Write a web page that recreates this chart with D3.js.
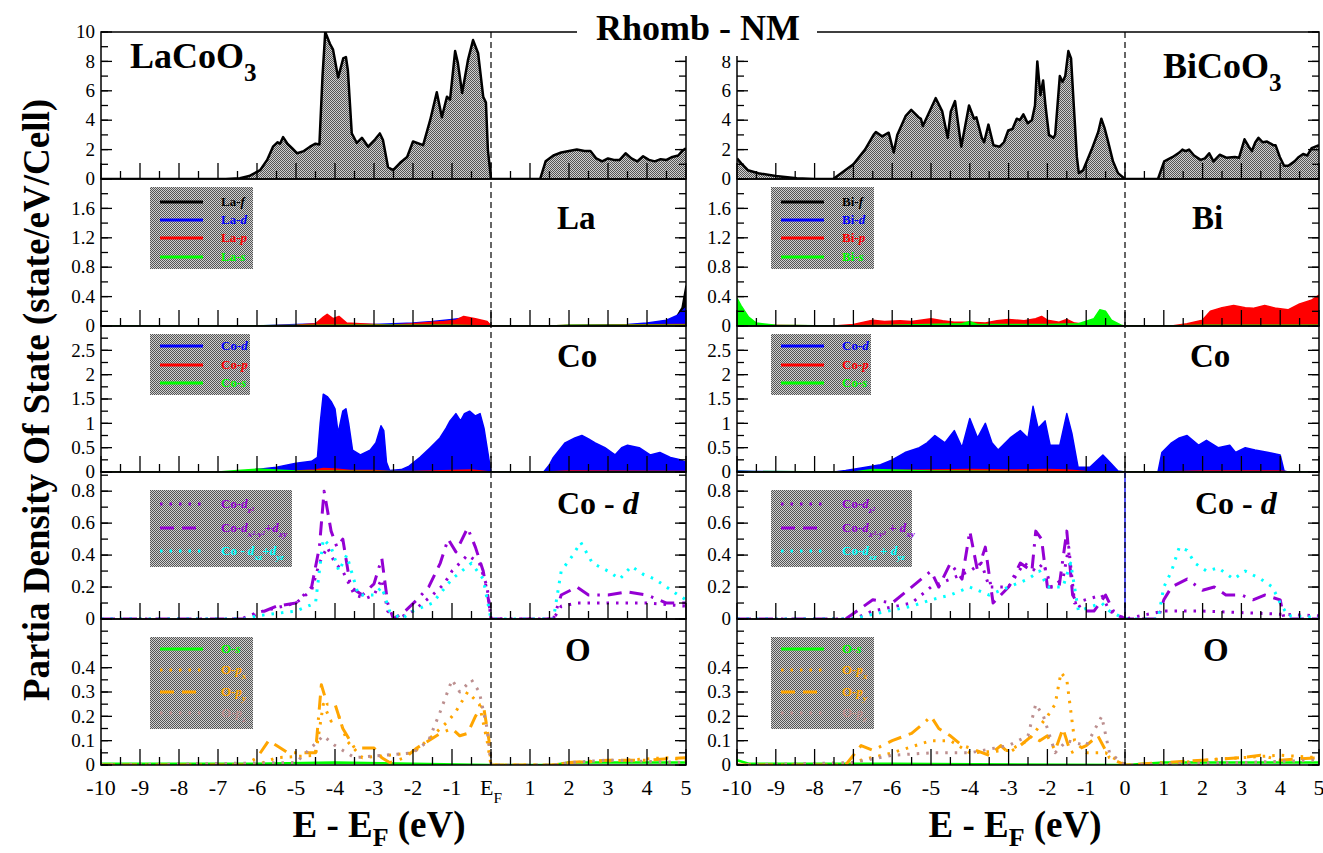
<!DOCTYPE html>
<html>
<head>
<meta charset="utf-8">
<script src="https://cdn.jsdelivr.net/npm/d3@7"></script>
<style>
  body { margin: 0; background: #fff; }
</style>
</head>
<body>
<svg id="chart" width="1323" height="853" font-family="'Liberation Serif', 'DejaVu Serif', serif"></svg>
<script>
// ---------- data (energy E - EF in eV, DOS) ----------
const laTotal = [[-10,0],[-6.8,0],[-6.44,0.05],[-6.2,0.2],[-5.92,0.6],[-5.74,1.3],[-5.59,2.2],[-5.47,2.5],[-5.41,2.4],[-5.33,2.85],[-5.22,2.4],[-5.1,2.1],[-4.97,1.75],[-4.8,1.9],[-4.64,2.2],[-4.5,2.4],[-4.4,2.35],[-4.32,7],[-4.25,10],[-4.13,9.2],[-4.05,8.8],[-3.92,6.9],[-3.79,8.2],[-3.72,8.3],[-3.67,7.4],[-3.57,3.1],[-3.44,2.45],[-3.31,2.8],[-3.15,2.2],[-2.97,2.7],[-2.85,3.1],[-2.77,2.65],[-2.64,0.8],[-2.51,0.6],[-2.33,1.1],[-2.15,1.5],[-2.0,2.55],[-1.74,2.3],[-1.56,4.0],[-1.39,5.9],[-1.26,4.2],[-1.13,5.6],[-1.05,5.4],[-0.92,8.7],[-0.85,7.9],[-0.74,5.85],[-0.59,8.1],[-0.46,9.45],[-0.33,8.55],[-0.2,5.6],[-0.13,5.2],[-0.08,2],[0,0],[1.26,0],[1.4,1.2],[1.6,1.6],[1.8,1.8],[2.0,1.9],[2.2,2.0],[2.4,1.9],[2.55,1.9],[2.7,1.4],[2.85,1.2],[3.0,1.4],[3.15,1.3],[3.3,1.3],[3.45,1.75],[3.6,1.4],[3.75,1.2],[3.9,1.55],[4.05,1.3],[4.2,1.2],[4.35,1.35],[4.5,1.3],[4.65,1.5],[4.8,1.6],[4.9,1.9],[5,2.1]];
const biTotal = [[-10,1.4],[-9.89,1.07],[-9.72,0.6],[-9.45,0.39],[-9.0,0.2],[-8.46,0.05],[-8,0],[-7.52,0],[-7.0,1.0],[-6.7,2.0],[-6.48,3.0],[-6.42,3.2],[-6.26,2.9],[-6.09,3.15],[-5.96,1.8],[-5.87,3.0],[-5.65,4.3],[-5.51,4.7],[-5.32,4.2],[-5.26,4.1],[-5.21,3.6],[-4.88,5.5],[-4.71,4.6],[-4.57,2.8],[-4.49,4.6],[-4.38,5.3],[-4.22,2.2],[-4.02,5.0],[-3.89,4.1],[-3.83,4.2],[-3.69,2.8],[-3.63,2.5],[-3.52,3.7],[-3.39,2.3],[-3.23,2.2],[-3.12,2.5],[-3.01,3.3],[-2.9,3.4],[-2.79,4.1],[-2.71,4.0],[-2.62,4.4],[-2.51,3.8],[-2.4,4.0],[-2.32,5.0],[-2.26,8.0],[-2.18,5.7],[-2.11,6.7],[-2.05,5.0],[-1.96,3.0],[-1.85,2.8],[-1.8,3.0],[-1.68,7.0],[-1.61,6.6],[-1.54,7.0],[-1.46,8.7],[-1.39,8.2],[-1.32,5.0],[-1.24,1.5],[-1.19,0.4],[-1.08,0.6],[-0.86,2.0],[-0.69,3.2],[-0.61,4.1],[-0.53,3.5],[-0.45,2.7],[-0.31,1.2],[-0.18,0.4],[0,0],[0.85,0],[1.01,1.2],[1.23,1.5],[1.4,1.8],[1.48,2.0],[1.56,1.9],[1.65,2.0],[1.78,1.6],[1.95,1.3],[2.06,1.4],[2.17,1.75],[2.28,1.2],[2.44,1.65],[2.61,1.45],[2.83,1.5],[2.94,1.45],[3.08,2.7],[3.19,2.2],[3.27,1.9],[3.36,2.5],[3.44,2.8],[3.55,2.5],[3.66,2.55],[3.82,2.3],[3.88,2.3],[3.99,1.5],[4.1,0.9],[4.21,0.9],[4.37,1.2],[4.48,1.5],[4.59,1.7],[4.7,1.6],[4.81,2.1],[5,2.3]];

const laF = [[-10,0],[3.5,0],[4,0.02],[4.5,0.06],[4.75,0.12],[4.9,0.25],[5,0.55]];
const laD = [[-10,0],[-6,0],[-5,0.02],[-4.3,0.03],[-3,0.02],[-2,0.04],[-1.5,0.06],[-1,0.09],[-0.7,0.11],[-0.4,0.08],[-0.1,0.05],[0,0],[1.5,0],[2.5,0.01],[3.5,0.02],[4,0.04],[4.5,0.08],[4.8,0.15],[5,0.25]];
const laP = [[-10,0],[-6,0],[-5,0.01],[-4.5,0.03],[-4.3,0.12],[-4.2,0.16],[-4.05,0.1],[-3.9,0.13],[-3.7,0.04],[-3,0.02],[-2.6,0.01],[-2,0.03],[-1.5,0.05],[-1.2,0.06],[-0.9,0.08],[-0.7,0.13],[-0.4,0.1],[-0.1,0.06],[0,0],[1.5,0],[2,0.01],[5,0.02]];
const laS = [[-10,0.005],[-6,0.005],[-4,0.01],[-1,0.01],[0,0],[1.5,0],[2,0.01],[5,0.01]];

const biF = [[-10,0],[5,0]];
const biD = [[-10,0],[-7,0],[-5,0.01],[-2,0.01],[0,0],[1,0],[5,0.02]];
const biP = [[-10,0.02],[-9.5,0.01],[-7.5,0],[-7,0.02],[-6.5,0.08],[-6.2,0.06],[-5.8,0.07],[-5.5,0.06],[-5.0,0.1],[-4.7,0.07],[-4.4,0.05],[-4,0.05],[-3.6,0.04],[-3.3,0.07],[-3,0.09],[-2.6,0.07],[-2.3,0.1],[-2.15,0.13],[-2,0.08],[-1.7,0.05],[-1.5,0.09],[-1.3,0.04],[-1,0.02],[-0.5,0.03],[0,0],[1.2,0],[1.6,0.03],[2,0.08],[2.2,0.2],[2.5,0.25],[2.8,0.28],[3.1,0.25],[3.3,0.24],[3.6,0.28],[3.9,0.24],[4.2,0.22],[4.5,0.3],[4.8,0.35],[5,0.42]];
const biS = [[-10,0.38],[-9.9,0.28],[-9.7,0.12],[-9.5,0.04],[-9,0.01],[-7.5,0],[-6,0.01],[-4.2,0.03],[-4,0.06],[-3.8,0.02],[-2,0.02],[-1.2,0.03],[-0.8,0.1],[-0.65,0.22],[-0.5,0.2],[-0.35,0.08],[-0.1,0.01],[0,0],[1,0],[2,0.01],[5,0.01]];

const coDL = [[-10,0],[-6.6,0],[-6,0.05],[-5.5,0.1],[-5,0.18],[-4.6,0.22],[-4.45,0.3],[-4.38,1.0],[-4.3,1.6],[-4.2,1.55],[-4.1,1.45],[-4.0,1.3],[-3.92,0.8],[-3.8,1.25],[-3.72,1.3],[-3.65,1.0],[-3.55,0.45],[-3.35,0.35],[-3.1,0.45],[-2.95,0.6],[-2.82,0.95],[-2.75,0.85],[-2.68,0.2],[-2.6,0.03],[-2.3,0.05],[-2.1,0.12],[-1.82,0.3],[-1.56,0.5],[-1.31,0.7],[-1.15,0.9],[-1.05,1.05],[-0.9,1.2],[-0.78,1.05],[-0.68,1.2],[-0.55,1.25],[-0.4,1.15],[-0.28,1.2],[-0.18,0.9],[-0.08,0.4],[0,0],[1.35,0],[1.5,0.15],[1.6,0.3],[1.9,0.6],[2.15,0.7],[2.33,0.75],[2.5,0.68],[2.67,0.6],[2.92,0.5],[3.18,0.35],[3.35,0.5],[3.5,0.55],[3.8,0.5],[4.08,0.35],[4.33,0.4],[4.6,0.3],[4.85,0.25],[5,0.2]];
const coPL = [[-10,0],[-6,0],[-5,0.02],[-4.5,0.04],[-4.3,0.07],[-4,0.06],[-3.6,0.03],[-3,0.03],[-2.6,0.01],[-2,0.01],[-1,0.03],[-0.5,0.04],[0,0],[1.4,0],[2,0.02],[5,0.01]];
const coSL = [[-10,0],[-7,0],[-6.5,0.03],[-6,0.06],[-5.5,0.04],[-5,0.02],[-3,0.01],[0,0],[1.4,0],[5,0.005]];
const coDR = [[-10,0.02],[-9.5,0.01],[-7.5,0],[-7.2,0.03],[-6.8,0.08],[-6.3,0.15],[-6,0.25],[-5.67,0.4],[-5.3,0.5],[-5.1,0.6],[-4.9,0.75],[-4.64,0.6],[-4.4,0.85],[-4.2,0.5],[-4.0,1.1],[-3.8,0.7],[-3.6,1.0],[-3.43,0.6],[-3.27,0.45],[-2.96,0.7],[-2.7,0.85],[-2.5,0.7],[-2.37,1.35],[-2.24,0.9],[-2.06,1.05],[-1.93,0.55],[-1.68,0.55],[-1.5,1.2],[-1.37,0.8],[-1.21,0.1],[-0.9,0.1],[-0.7,0.25],[-0.57,0.35],[-0.39,0.2],[-0.18,0.02],[0,0],[0.85,0],[0.95,0.4],[1.2,0.6],[1.4,0.7],[1.6,0.75],[1.9,0.55],[2.1,0.65],[2.4,0.5],[2.7,0.55],[2.85,0.4],[3.1,0.5],[3.35,0.45],[3.7,0.4],[4.0,0.35],[4.1,0.02],[4.2,0],[5,0]];
const coPR = [[-10,0],[-7,0],[-6,0.03],[-5,0.04],[-4,0.05],[-3,0.04],[-2,0.05],[-1.5,0.04],[-1,0.01],[0,0],[0.9,0],[2,0.02],[4,0.02],[4.2,0],[5,0]];
const coSR = [[-10,0.01],[-7,0],[-6.5,0.05],[-6,0.04],[-5,0.02],[0,0],[5,0.005]];

const dz2L = [[-10,0],[-6.4,0],[-6,0.04],[-5.5,0.07],[-5,0.1],[-4.6,0.18],[-4.4,0.35],[-4.2,0.45],[-4.0,0.35],[-3.8,0.3],[-3.5,0.15],[-3.2,0.13],[-3.0,0.15],[-2.8,0.25],[-2.65,0.05],[-2.4,0],[-2,0.05],[-1.5,0.15],[-1.2,0.22],[-1,0.3],[-0.6,0.4],[-0.3,0.35],[-0.1,0.2],[0,0],[1.6,0],[1.8,0.08],[2.2,0.1],[3,0.1],[4,0.1],[5,0.08]];
const dx2L = [[-10,0],[-6.3,0],[-5.8,0.05],[-5.5,0.08],[-5.0,0.1],[-4.6,0.2],[-4.4,0.45],[-4.28,0.8],[-4.1,0.55],[-3.95,0.45],[-3.8,0.5],[-3.6,0.2],[-3.3,0.15],[-3.0,0.22],[-2.8,0.38],[-2.65,0.1],[-2.5,0],[-2.2,0.05],[-1.9,0.12],[-1.6,0.2],[-1.3,0.35],[-1.1,0.5],[-0.9,0.42],[-0.6,0.57],[-0.4,0.45],[-0.2,0.3],[-0.05,0.1],[0,0],[1.6,0],[1.8,0.15],[2.2,0.2],[2.5,0.15],[3,0.15],[3.5,0.17],[4,0.15],[4.5,0.1],[5,0.1]];
const dxzL = [[-10,0],[-6.3,0],[-6,0.02],[-5,0.05],[-4.5,0.1],[-4.3,0.5],[-4.1,0.45],[-3.9,0.3],[-3.7,0.4],[-3.4,0.15],[-3,0.15],[-2.8,0.2],[-2.6,0.05],[-2.3,0],[-2,0.05],[-1.5,0.1],[-1,0.25],[-0.5,0.35],[-0.2,0.25],[0,0],[1.6,0],[1.8,0.3],[2.1,0.4],[2.3,0.48],[2.6,0.35],[3,0.3],[3.3,0.25],[3.6,0.33],[3.9,0.28],[4.2,0.25],[4.5,0.2],[4.8,0.15],[5,0.12]];
const dz2R = [[-10,0],[-7,0],[-6.5,0.05],[-5.5,0.1],[-5,0.2],[-4.5,0.25],[-4,0.3],[-3.7,0.35],[-3.5,0.2],[-3,0.2],[-2.6,0.35],[-2.3,0.3],[-2.1,0.35],[-1.9,0.2],[-1.6,0.25],[-1.45,0.45],[-1.3,0.1],[-0.6,0.15],[-0.4,0.05],[0,0],[1,0.05],[2,0.05],[5,0.02]];
const dx2R = [[-10,0],[-7.2,0],[-6.5,0.12],[-6,0.1],[-5.5,0.2],[-5,0.3],[-4.8,0.2],[-4.5,0.35],[-4.2,0.25],[-4.0,0.55],[-3.8,0.3],[-3.6,0.45],[-3.4,0.1],[-3,0.2],[-2.7,0.35],[-2.4,0.3],[-2.3,0.55],[-2.15,0.5],[-2.0,0.2],[-1.7,0.2],[-1.5,0.55],[-1.35,0.15],[-1.1,0.05],[-0.8,0.05],[-0.5,0.15],[-0.3,0.05],[0,0],[0.85,0],[1.0,0.12],[1.2,0.2],[1.6,0.25],[2,0.18],[2.3,0.2],[2.6,0.15],[3.0,0.15],[3.3,0.12],[3.6,0.15],[4.0,0.12],[4.1,0],[5,0]];
const dxzR = [[-10,0],[-7,0],[-6.5,0.03],[-5.5,0.08],[-5,0.12],[-4.5,0.15],[-4,0.2],[-3.5,0.15],[-3,0.2],[-2.5,0.25],[-2.2,0.3],[-2,0.2],[-1.6,0.2],[-1.4,0.35],[-1.2,0.05],[-0.6,0.1],[-0.4,0.05],[0,0],[0.85,0],[1.0,0.2],[1.2,0.3],[1.4,0.45],[1.6,0.43],[1.8,0.35],[2.1,0.3],[2.4,0.32],[2.8,0.25],[3.1,0.3],[3.5,0.25],[3.8,0.2],[4.0,0.1],[4.2,0.02],[5,0.01]];
const dSpikeR = [[0,0],[0,1]];

const oSL = [[-10,0.005],[-6,0.005],[-4,0.01],[0,0],[1.6,0],[2,0.01],[5,0.01]];
const oPxL = [[-10,0],[-6,0],[-5.5,0.03],[-4.5,0.04],[-4.3,0.25],[-4.1,0.18],[-3.9,0.2],[-3.7,0.1],[-3.3,0.03],[-2,0.05],[-1.5,0.12],[-1.1,0.18],[-0.9,0.22],[-0.6,0.3],[-0.3,0.25],[-0.1,0.1],[0,0],[1.6,0],[2,0.01],[3.5,0.02],[4.5,0.03],[5,0.02]];
const oPyL = [[-10,0],[-6.3,0],[-6,0.03],[-5.7,0.1],[-5.5,0.08],[-5.2,0.05],[-4.8,0.05],[-4.5,0.05],[-4.35,0.33],[-4.2,0.25],[-4.0,0.25],[-3.8,0.15],[-3.5,0.07],[-3.0,0.07],[-2.8,0.03],[-2.6,0.01],[-2.2,0.03],[-1.9,0.07],[-1.6,0.1],[-1.3,0.13],[-1.0,0.15],[-0.8,0.12],[-0.6,0.13],[-0.4,0.2],[-0.2,0.25],[-0.05,0.1],[0,0],[1.6,0],[2,0.01],[3,0.02],[4,0.02],[5,0.03]];
const oPzL = [[-10,0],[-5,0.01],[-4.3,0.12],[-4,0.08],[-3.5,0.03],[-2,0.05],[-1.6,0.1],[-1.3,0.22],[-1.0,0.35],[-0.8,0.3],[-0.5,0.35],[-0.3,0.3],[-0.1,0.15],[0,0],[1.6,0],[2,0.01],[3,0.02],[5,0.01]];
const oSR = [[-10,0.02],[-9.7,0.005],[-6,0.005],[0,0],[1,0.01],[5,0.01]];
const oPxR = [[-10,0],[-7.2,0],[-6.8,0.02],[-6,0.05],[-5,0.1],[-4.5,0.1],[-4,0.05],[-3,0.06],[-2.5,0.1],[-2,0.2],[-1.8,0.25],[-1.65,0.38],[-1.5,0.35],[-1.3,0.1],[-1,0.05],[-0.5,0.05],[0,0],[1,0],[2,0.02],[3,0.03],[4,0.04],[5,0.03]];
const oPyR = [[-10,0],[-7.2,0],[-6.8,0.08],[-6.5,0.06],[-6.0,0.1],[-5.5,0.13],[-5.2,0.17],[-5.0,0.2],[-4.8,0.15],[-4.5,0.12],[-4.2,0.08],[-4,0.07],[-3.5,0.04],[-3.2,0.08],[-3,0.05],[-2.7,0.08],[-2.4,0.12],[-2.2,0.1],[-2,0.12],[-1.8,0.06],[-1.6,0.15],[-1.4,0.05],[-1,0.08],[-0.7,0.12],[-0.4,0.03],[0,0],[1,0.01],[2,0.02],[3,0.03],[3.5,0.04],[4,0.02],[5,0.03]];
const oPzR = [[-10,0],[-7,0.01],[-6,0.04],[-5,0.05],[-4,0.05],[-3,0.08],[-2.5,0.12],[-2.3,0.25],[-2.1,0.2],[-1.8,0.05],[-1.5,0.1],[-1,0.08],[-0.6,0.2],[-0.4,0.05],[0,0],[1,0.005],[3,0.01],[5,0.02]];

// axis settings
const panelY = [32, 179, 326, 472, 619, 765];
const yMax = [10, 2, 3, 0.92, 0.6];
const yTicks = [[0,2,4,6,8,10],[0,0.4,0.8,1.2,1.6],[0,0.5,1,1.5,2,2.5],[0,0.2,0.4,0.6,0.8],[0,0.1,0.2,0.3,0.4]];
const yMinor = [1, 0.2, 0.25, 0.1, 0.05];
const xTicks = d3.range(-10, 5.001, 1);
const xTicksMinor = d3.range(-9.5, 5, 1);

const BLUE = "#0000ff", RED = "#ff0000", GREEN = "#00ff00", VIOLET = "#9400d3",
      CYAN = "#00ffff", ORANGE = "#ffa500", ROSY = "#bc8f8f";
const DOT = "2.5,7", DASH = "14,8,14,8,2.5,8";

const svg = d3.select("#chart");
const defs = svg.append("defs");
const pat = defs.append("pattern").attr("id", "checker")
    .attr("width", 2).attr("height", 2).attr("patternUnits", "userSpaceOnUse");
pat.append("rect").attr("width", 2).attr("height", 2).attr("fill", "#d0d0d0");
pat.append("rect").attr("width", 1).attr("height", 1).attr("fill", "#555");
pat.append("rect").attr("x", 1).attr("y", 1).attr("width", 1).attr("height", 1).attr("fill", "#555");

function rich(sel, parts, fs, subK = 0.35) {
    let shift = 0;
    parts.forEach(([t, st]) => {
        const ts = sel.append("tspan").text(t);
        let target = 0;
        if (st.includes("sub")) target = fs * subK;
        ts.attr("dy", target - shift);
        shift = target;
        if (st.includes("sub")) ts.attr("font-size", fs * 0.7);
        if (st.includes("i")) ts.attr("font-style", "italic");
    });
}

function drawPlot(cfg) {
    const x = d3.scaleLinear().domain([-10, 5]).range([cfg.x0, cfg.x1]);
    const g = svg.append("g");

    cfg.panels.forEach((pn, i) => {
        const top = panelY[i], bot = panelY[i + 1];
        const y = d3.scaleLinear().domain([0, yMax[i]]).range([bot, top]);
        const cid = "clip" + cfg.id + i;
        defs.append("clipPath").attr("id", cid).append("rect")
            .attr("x", cfg.x0).attr("y", top).attr("width", cfg.x1 - cfg.x0).attr("height", bot - top);
        const pg = g.append("g").attr("clip-path", `url(#${cid})`);

        const area = d3.area().x(d => x(d[0])).y0(y(0)).y1(d => y(d[1]));
        const line = d3.line().x(d => x(d[0])).y(d => y(d[1]));

        pn.series.forEach(s => {
            if (s.fill) {
                pg.append("path").datum(s.data).attr("d", area)
                    .attr("fill", s.fill).attr("stroke", "none");
            }
            pg.append("path").datum(s.data).attr("d", line)
                .attr("fill", "none").attr("stroke", s.color)
                .attr("stroke-width", s.width || 2.5)
                .attr("stroke-dasharray", s.dash || null)
                .attr("stroke-linejoin", "round");
        });

        // frame
        g.append("rect").attr("x", cfg.x0).attr("y", top)
            .attr("width", cfg.x1 - cfg.x0).attr("height", bot - top)
            .attr("fill", "none").attr("stroke", "#000").attr("stroke-width", 1.5);

        // x ticks (inward from bottom)
        g.selectAll(null).data(xTicks).enter().append("line")
            .attr("x1", d => x(d)).attr("x2", d => x(d))
            .attr("y1", bot).attr("y2", bot - 16)
            .attr("stroke", "#000").attr("stroke-width", 1.3);
        g.selectAll(null).data(xTicksMinor).enter().append("line")
            .attr("x1", d => x(d)).attr("x2", d => x(d))
            .attr("y1", bot).attr("y2", bot - 8)
            .attr("stroke", "#000").attr("stroke-width", 1.3);

        // y ticks, both sides
        const majors = (cfg.id === "R" && i === 0) ? yTicks[i].filter(v => v < 10) : yTicks[i];
        const minors = d3.range(0, yMax[i] + 1e-9, yMinor[i]);
        [[cfg.x0, 1], [cfg.x1, -1]].forEach(([ax, dir]) => {
            g.selectAll(null).data(minors).enter().append("line")
                .attr("x1", ax).attr("x2", ax + dir * 7)
                .attr("y1", d => y(d)).attr("y2", d => y(d))
                .attr("stroke", "#000").attr("stroke-width", 1.3);
            g.selectAll(null).data(yTicks[i]).enter().append("line")
                .attr("x1", ax).attr("x2", ax + dir * 11)
                .attr("y1", d => y(d)).attr("y2", d => y(d))
                .attr("stroke", "#000").attr("stroke-width", 1.3);
        });
        g.selectAll(null).data(majors).enter().append("text")
            .attr("x", cfg.x0 - 6).attr("y", d => y(d)).attr("dy", "0.33em")
            .attr("text-anchor", "end").attr("font-size", 19)
            .text(d => String(d));

        // panel label
        const lt = g.append("text").attr("x", pn.label.x).attr("y", pn.label.y)
            .attr("font-size", pn.label.fs).attr("font-weight", "bold");
        rich(lt, pn.label.parts, pn.label.fs);

        // legend
        if (pn.legend) {
            const L = pn.legend;
            g.append("rect").attr("x", L.x).attr("y", L.y).attr("width", L.w).attr("height", L.h)
                .attr("fill", "url(#checker)");
            L.rows.forEach((r, k) => {
                const ry = L.y + L.rowY[k];
                g.append("line").attr("x1", L.x + 10).attr("x2", L.x + 53)
                    .attr("y1", ry).attr("y2", ry)
                    .attr("stroke", r.color).attr("stroke-width", 3)
                    .attr("stroke-dasharray", r.dash || null);
                const t = g.append("text").attr("x", L.x + 71).attr("y", ry + 4)
                    .attr("font-size", 13).attr("font-weight", "bold").attr("fill", r.color);
                rich(t, r.parts, 13);
            });
        }
    });

    // Fermi level
    g.append("line").attr("x1", x(0)).attr("x2", x(0))
        .attr("y1", panelY[0]).attr("y2", panelY[5])
        .attr("stroke", "#000").attr("stroke-width", 1.2).attr("stroke-dasharray", "6,4");

    // x tick labels
    xTicks.forEach(v => {
        const t = g.append("text").attr("x", x(v)).attr("y", 795)
            .attr("text-anchor", "middle").attr("font-size", 22);
        if (v === 0 && cfg.id === "L") rich(t, [["E", ""], ["F", "sub"]], 22);
        else t.text(String(v));
    });

    // x axis title
    const xt = g.append("text").attr("x", cfg.xTitle).attr("y", 837)
        .attr("text-anchor", "middle").attr("font-size", 37).attr("font-weight", "bold");
    rich(xt, [["E - E", ""], ["F", "sub"], [" (eV)", ""]], 37, 0.24);
}

function orbRows(el) {
    return [["#000", "f"], [BLUE, "d"], [RED, "p"], [GREEN, "s"]]
        .map(([c, o]) => ({ color: c, parts: [[el + "-", ""], [o, "i"]] }));
}
const coRows = [[BLUE, "d"], [RED, "p"], [GREEN, "s"]]
    .map(([c, o]) => ({ color: c, parts: [["Co-", ""], [o, "i"]] }));
const oRows = [
    { color: GREEN, parts: [["O-", ""], ["s", "i"]] },
    { color: ORANGE, dash: DOT, parts: [["O-", ""], ["p", "i"], ["x", "i sub"]] },
    { color: ORANGE, dash: DASH, parts: [["O-", ""], ["p", "i"], ["y", "i sub"]] },
    { color: ROSY, dash: DOT, parts: [["O-", ""], ["p", "i"], ["z", "i sub"]] }
];
const cdRowsL = [
    { color: VIOLET, dash: DOT, parts: [["Co-", ""], ["d", "i"], ["z²", "i sub"]] },
    { color: VIOLET, dash: DASH, parts: [["Co-", ""], ["d", "i"], ["x²-y²", "i sub"], ["+", ""], ["d", "i"], ["xy", "i sub"]] },
    { color: CYAN, dash: DOT, parts: [["Co - ", ""], ["d", "i"], ["xz", "i sub"], ["+", ""], ["d", "i"], ["yz", "i sub"]] }
];
const cdRowsR = [
    { color: VIOLET, dash: DOT, parts: [["Co-", ""], ["d", "i"], ["z²", "i sub"]] },
    { color: VIOLET, dash: DASH, parts: [["Co-", ""], ["d", "i"], ["x²-y²", "i sub"], [" + ", ""], ["d", "i"], ["xy", "i sub"]] },
    { color: CYAN, dash: DOT, parts: [["Co-", ""], ["d", "i"], ["xz", "i sub"], [" + ", ""], ["d", "i"], ["yz", "i sub"]] }
];

function panelsFor(side) {
    const L = side === "L";
    const lx = L ? 150 : 771;
    return [
        { series: [{ data: L ? laTotal : biTotal, color: "#000", fill: "url(#checker)", width: 2.5 }],
          label: L ? { x: 130, y: 68, fs: 36, parts: [["LaCoO", ""], ["3", "sub"]] }
                   : { x: 1163, y: 78, fs: 36, parts: [["BiCoO", ""], ["3", "sub"]] } },
        { series: (L ? [[laF, "#000"], [laD, BLUE], [laP, RED], [laS, GREEN]]
                     : [[biF, "#000"], [biD, BLUE], [biP, RED], [biS, GREEN]])
                   .map(([d, c]) => ({ data: d, color: c, fill: c, width: 1.5 })),
          label: { x: L ? 557 : 1192, y: 229, fs: 33, parts: [[L ? "La" : "Bi", ""]] },
          legend: { x: lx, y: 187, w: 103, h: 82, rowY: [15, 33, 51, 70], rows: orbRows(L ? "La" : "Bi") } },
        { series: (L ? [[coDL, BLUE], [coPL, RED], [coSL, GREEN]] : [[coDR, BLUE], [coPR, RED], [coSR, GREEN]])
                   .map(([d, c]) => ({ data: d, color: c, fill: c, width: 1.5 })),
          label: { x: L ? 557 : 1190, y: 367, fs: 33, parts: [["Co", ""]] },
          legend: { x: lx, y: 334, w: 100, h: 61, rowY: [12, 31, 49], rows: coRows } },
        { series: (L ? [{ data: dz2L, color: VIOLET, dash: DOT, width: 3 },
                        { data: dx2L, color: VIOLET, dash: DASH, width: 3 },
                        { data: dxzL, color: CYAN, dash: DOT, width: 3 }]
                     : [{ data: dSpikeR, color: "#5555ff", width: 2 },
                        { data: dz2R, color: VIOLET, dash: DOT, width: 3 },
                        { data: dx2R, color: VIOLET, dash: DASH, width: 3 },
                        { data: dxzR, color: CYAN, dash: DOT, width: 3 }]),
          label: { x: L ? 557 : 1195, y: 514, fs: 32, parts: [["Co - ", ""], ["d", "i"]] },
          legend: { x: lx, y: 490, w: L ? 142 : 141, h: 77, rowY: [14, 38, 61], rows: L ? cdRowsL : cdRowsR } },
        { series: (L ? [{ data: oSL, color: GREEN, width: 2.5 },
                        { data: oPxL, color: ORANGE, dash: DOT, width: 3 },
                        { data: oPyL, color: ORANGE, dash: DASH, width: 3 },
                        { data: oPzL, color: ROSY, dash: DOT, width: 3 }]
                     : [{ data: oSR, color: GREEN, width: 2.5 },
                        { data: oPxR, color: ORANGE, dash: DOT, width: 3 },
                        { data: oPyR, color: ORANGE, dash: DASH, width: 3 },
                        { data: oPzR, color: ROSY, dash: DOT, width: 3 }]),
          label: { x: L ? 565 : 1203, y: 661, fs: 33, parts: [["O", ""]] },
          legend: { x: lx, y: 637, w: 103, h: 92, rowY: [12, 33, 55, 76], rows: oRows } }
    ];
}

drawPlot({ id: "L", x0: 101, x1: 686, xTitle: 379, panels: panelsFor("L") });
drawPlot({ id: "R", x0: 737, x1: 1319, xTitle: 1015, panels: panelsFor("R") });

// title over the top frame
svg.append("rect").attr("x", 577).attr("y", 0).attr("width", 240).attr("height", 56).attr("fill", "#fff");
svg.append("text").attr("x", 698).attr("y", 40).attr("text-anchor", "middle")
    .attr("font-size", 36).attr("font-weight", "bold").text("Rhomb - NM");

// y axis title
svg.append("text").attr("transform", "translate(49,400) rotate(-90)")
    .attr("text-anchor", "middle").attr("font-size", 37).attr("font-weight", "bold")
    .text("Partia Density Of State (state/eV/Cell)");
</script>
</body>
</html>
